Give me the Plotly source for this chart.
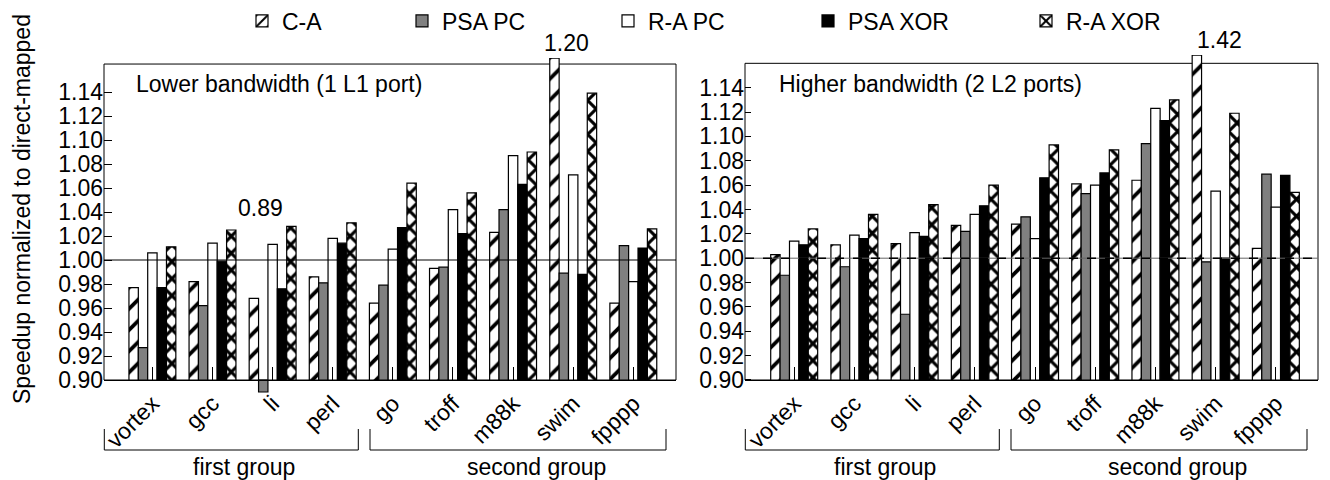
import plotly.graph_objects as go

# ---------------- data ----------------
benchmarks = ["vortex", "gcc", "li", "perl", "go", "troff", "m88k", "swim", "fpppp"]
series_names = ["C-A", "PSA PC", "R-A PC", "PSA XOR", "R-A XOR"]

# Lower bandwidth (1 L1 port)
low_ca      = [0.977, 0.982, 0.968, 0.986, 0.964, 0.993, 1.023, 1.20, 0.964]
low_psa_pc  = [0.927, 0.962, 0.89, 0.981, 0.979, 0.994, 1.042, 0.989, 1.012]
low_ra_pc   = [1.006, 1.014, 1.013, 1.018, 1.009, 1.042, 1.087, 1.071, 0.982]
low_psa_xor = [0.977, 0.999, 0.976, 1.014, 1.027, 1.022, 1.063, 0.988, 1.010]
low_ra_xor  = [1.011, 1.025, 1.028, 1.031, 1.064, 1.056, 1.090, 1.139, 1.026]

# Higher bandwidth (2 L2 ports)
high_ca      = [1.003, 1.011, 1.012, 1.027, 1.028, 1.061, 1.064, 1.42, 1.008]
high_psa_pc  = [0.986, 0.993, 0.954, 1.022, 1.034, 1.053, 1.094, 0.997, 1.069]
high_ra_pc   = [1.014, 1.019, 1.021, 1.036, 1.016, 1.060, 1.123, 1.055, 1.042]
high_psa_xor = [1.011, 1.016, 1.018, 1.043, 1.066, 1.070, 1.113, 1.000, 1.068]
high_ra_xor  = [1.024, 1.036, 1.044, 1.060, 1.093, 1.089, 1.130, 1.119, 1.054]

y_ticks = [0.90, 0.92, 0.94, 0.96, 0.98, 1.00, 1.02, 1.04, 1.06, 1.08, 1.10, 1.12, 1.14]
panel_titles = ["Lower bandwidth (1 L1 port)", "Higher bandwidth (2 L2 ports)"]
group_labels = ["first group", "second group"]
y_title = "Speedup normalized to direct-mapped"

# ---------------- styles ----------------
W, H = 1330, 480
OFF = 8              # the page body adds an 8px margin; positions below are screen pixels
FONT = "Liberation Sans, Arial, Helvetica, sans-serif"
BASE = 0.90
LOW = 0.885
AXIS_Y = 380

def px(x):
    return (x - OFF) / W

def py(y):
    return 1 - (y - OFF) / H

styles = {
    "C-A": dict(color="white", pattern=dict(shape="/", fgcolor="black", bgcolor="white",
                                            size=15, solidity=0.25, fillmode="replace")),
    "PSA PC": dict(color="#808080"),
    "R-A PC": dict(color="white"),
    "PSA XOR": dict(color="black"),
    "R-A XOR": dict(color="white", pattern=dict(shape="x", fgcolor="black", bgcolor="white",
                                                size=12, solidity=0.45, fillmode="replace")),
}

panels = [
    dict(data=[low_ca, low_psa_pc, low_ra_pc, low_psa_xor, low_ra_xor],
         xa="x", ya="y", frame_top=1.1633, cap=1.1683, scale=1200.0,
         left=104, right=676, xr=[-0.805, 8.71]),
    dict(data=[high_ca, high_psa_pc, high_ra_pc, high_psa_xor, high_ra_xor],
         xa="x2", ya="y2", frame_top=1.16, cap=1.1668, scale=1218.0,
         left=745, right=1318, xr=[-0.817, 8.70]),
]

fig = go.Figure()
legend_ids = ["legend", "legend2", "legend3", "legend4", "legend5"]
xpos = list(range(len(benchmarks)))

for pi, p in enumerate(panels):
    for si, (name, vals) in enumerate(zip(series_names, p["data"])):
        shown = [min(v, p["cap"]) for v in vals]
        st = styles[name]
        marker = dict(color=st["color"], line=dict(color="black", width=1.2))
        if "pattern" in st:
            marker["pattern"] = st["pattern"]
        fig.add_trace(go.Bar(
            x=xpos, y=[v - BASE for v in shown], base=BASE,
            name=name, marker=marker, xaxis=p["xa"], yaxis=p["ya"],
            offsetgroup=str(si),
            showlegend=(pi == 0), legend=legend_ids[si],
            customdata=list(zip(benchmarks, vals)),
            hovertemplate="%{customdata[0]}: %{customdata[1]:.3f}<extra>" + name + "</extra>",
        ))

layout_axes = {}
for i, p in enumerate(panels):
    sfx = "" if i == 0 else "2"
    bottom_px = AXIS_Y + (BASE - LOW) * p["scale"]
    top_px = AXIS_Y - (p["cap"] - BASE) * p["scale"]
    layout_axes["xaxis" + sfx] = dict(
        domain=[px(p["left"]), px(p["right"])], anchor="free", position=py(AXIS_Y),
        type="linear", range=p["xr"], tickmode="array", tickvals=xpos, ticktext=benchmarks,
        tickangle=-45, ticks="inside", ticklen=13,
        tickcolor="black", showline=True, linecolor="black", linewidth=1,
        showgrid=False, zeroline=False, automargin=False,
        tickfont=dict(family=FONT, size=23, color="black"))
    layout_axes["yaxis" + sfx] = dict(
        domain=[py(bottom_px), py(top_px)], anchor="x" + sfx, range=[LOW, p["cap"]],
        tickvals=y_ticks, ticktext=[f"{t:.2f}" for t in y_ticks],
        ticks="inside", ticklen=8 if i == 0 else 6, tickcolor="black",
        showline=False, showgrid=False, zeroline=False, automargin=False,
        tickfont=dict(family=FONT, size=23, color="black"))

fig.update_layout(
    width=W, height=H, margin=dict(l=0, r=0, t=0, b=0, autoexpand=False),
    paper_bgcolor="white", plot_bgcolor="rgba(0,0,0,0)",
    barmode="group", bargap=0.22, bargroupgap=0,
    font=dict(family=FONT, size=23, color="black"),
    **layout_axes,
)

legend_text_x = [284, 444, 650, 850, 1068]
for lid, tx in zip(legend_ids, legend_text_x):
    fig.update_layout({lid: dict(x=px(tx - 42), y=py(21), xanchor="left", yanchor="middle",
                                 orientation="h", bgcolor="rgba(0,0,0,0)",
                                 font=dict(family=FONT, size=23, color="black"))})

for p in panels:
    fig.add_shape(type="rect", xref=p["xa"] + " domain", yref=p["ya"], x0=0, x1=1,
                  y0=BASE, y1=p["frame_top"], line=dict(color="black", width=1),
                  fillcolor="rgba(0,0,0,0)", layer="below")
fig.add_shape(type="line", xref="x domain", yref="y", x0=0, x1=1, y0=1.0, y1=1.0,
              line=dict(color="black", width=1), layer="above")
fig.add_shape(type="line", xref="x2 domain", yref="y2", x0=0, x1=1, y0=1.0, y1=1.0,
              line=dict(color="#666666", width=1), layer="above")
fig.add_shape(type="line", xref="x2 domain", yref="y2", x0=0, x1=1, y0=1.0, y1=1.0,
              line=dict(color="black", width=1.5, dash="dash"), layer="above")

annotations = []
annotations.append(dict(text=y_title, x=px(22), y=py(209), xref="paper", yref="paper",
                        textangle=-90, showarrow=False, font=dict(size=23),
                        xanchor="center", yanchor="middle"))
for t, tx in zip(panel_titles, [134, 777]):
    annotations.append(dict(text=t, x=px(tx), y=py(84), xref="paper", yref="paper",
                            showarrow=False, xanchor="left", yanchor="middle",
                            font=dict(size=23)))

label_pos = {(0, "swim", "C-A"): (-7, 43), (1, "swim", "C-A"): (4, 40),
             (0, "li", "PSA PC"): (-12, 208)}
for (pi, bench, sname), (dx, ly) in label_pos.items():
    p = panels[pi]
    bi = benchmarks.index(bench)
    v = p["data"][series_names.index(sname)][bi]
    annotations.append(dict(text=f"{v:.2f}", x=bi, xref=p["xa"], y=py(ly), yref="paper",
                            xshift=dx, showarrow=False, xanchor="center", yanchor="middle",
                            font=dict(size=23)))

for off in [0, 641]:
    for (a, b), lab, cx in zip([(104.3, 358.3), (370, 666)], group_labels, [244, 536]):
        fig.add_shape(type="path", xref="paper", yref="paper",
                      path=(f"M {px(a+off)},{py(429)} L {px(a+off)},{py(450)} "
                            f"L {px(b+off)},{py(450)} L {px(b+off)},{py(429)}"),
                      line=dict(color="black", width=1))
        annotations.append(dict(text=lab, x=px(cx + off), y=py(467), xref="paper",
                                yref="paper", showarrow=False, xanchor="center",
                                yanchor="middle", font=dict(size=23)))

fig.update_layout(annotations=annotations)
fig.write_html("out.html")
